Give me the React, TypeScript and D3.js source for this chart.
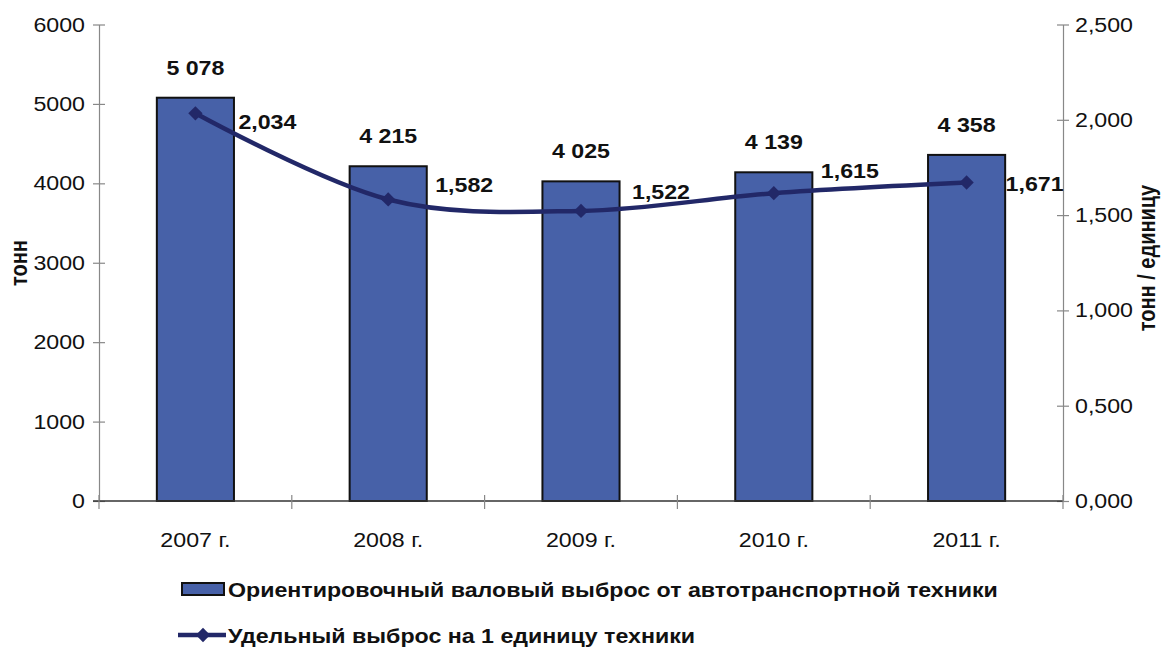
import React, { useEffect, useRef } from "react";
import * as d3 from "d3";

const years = ["2007 г.", "2008 г.", "2009 г.", "2010 г.", "2011 г."];
const grossEmission = [5078, 4215, 4025, 4139, 4358];
const specificEmission = [2.034, 1.582, 1.522, 1.615, 1.671];
const leftTicks = [0, 1000, 2000, 3000, 4000, 5000, 6000];
const rightTicks = [0, 0.5, 1, 1.5, 2, 2.5];

const barLegend = "Ориентировочный валовый выброс от автотранспортной техники";
const lineLegend = "Удельный выброс на 1 единицу техники";

// offsets of the line's value labels from their points
const lineLabelOffsets = [
    [43, 9],
    [47, -14],
    [51, -19],
    [47, -22],
    [39, 1],
];

const ru = d3.formatLocale({
    decimal: ",",
    thousands: " ",
    grouping: [3],
    currency: ["", ""],
});

const font = "'Liberation Sans', Arial, sans-serif";
const stretch = 1.16; // the original's text is wider than its height suggests

type Sel = d3.Selection<SVGGElement, unknown, null, undefined>;

// text, horizontally stretched like the original
function label(
    g: Sel,
    x: number,
    y: number,
    txt: string,
    opts: { size?: number; bold?: boolean; anchor?: string; rotate?: boolean } = {}
) {
    const t = g
        .append("text")
        .attr(
            "transform",
            opts.rotate
                ? `translate(${x},${y}) rotate(-90) scale(1,${stretch})`
                : `translate(${x},${y}) scale(${stretch},1)`
        )
        .attr("text-anchor", opts.anchor || "start")
        .style("font-family", font)
        .style("font-size", `${opts.size || 20}px`)
        .style("font-weight", opts.bold ? "bold" : "normal")
        .attr("fill", "#111")
        .text(txt);
    return t;
}

export default function App() {
    const svgRef = useRef<SVGSVGElement | null>(null);

    useEffect(() => {
        const width = 1161;
        const height = 648;
        const left = 99;
        const right = 1063;
        const top = 24.5;
        const bottom = 501;
        const barColor = "#4761a8";
        const lineColor = "#222868";

        const svg = d3.select(svgRef.current);
        svg.selectAll("*").remove();
        svg.attr("width", width).attr("height", height);
        const root = svg.append("g") as unknown as Sel;

        const x = d3
            .scaleBand<string>()
            .domain(years)
            .range([left, right])
            .paddingInner(0.6)
            .paddingOuter(0.3);

        const yL = d3.scaleLinear().domain([0, 6000]).range([bottom, top]);
        const yR = d3.scaleLinear().domain([0, 2.5]).range([bottom, top]);

        // left axis
        const gl = root.append("g").attr("transform", `translate(${left},0)`);
        gl.call(d3.axisLeft(yL).tickValues(leftTicks).tickFormat(() => "").tickSizeInner(6).tickSizeOuter(0));
        gl.selectAll(".tick line").attr("x1", 6).attr("stroke", "#888").attr("stroke-width", 1.2);
        gl.select(".domain").attr("stroke", "#888").attr("stroke-width", 1.2);
        leftTicks.forEach((v) => label(root, left - 14, yL(v) + 7, d3.format("d")(v), { anchor: "end" }));

        // right axis
        const gr = root.append("g").attr("transform", `translate(${right},0)`);
        gr.call(d3.axisRight(yR).tickValues(rightTicks).tickFormat(() => "").tickSizeInner(6).tickSizeOuter(0));
        gr.selectAll(".tick line").attr("x1", -6).attr("stroke", "#888").attr("stroke-width", 1.2);
        gr.select(".domain").attr("stroke", "#888").attr("stroke-width", 1.2);
        rightTicks.forEach((v) => label(root, right + 12, yR(v) + 7, ru.format(".3f")(v)));

        // bars
        root.append("g")
            .selectAll("rect")
            .data(grossEmission)
            .enter()
            .append("rect")
            .attr("x", (_, i) => x(years[i]) as number)
            .attr("y", (d) => yL(d))
            .attr("width", x.bandwidth())
            .attr("height", (d) => bottom - yL(d))
            .attr("fill", barColor)
            .attr("stroke", "#111")
            .attr("stroke-width", 2);

        // x axis
        const step = x.step();
        root.append("line")
            .attr("x1", left - 6)
            .attr("x2", right)
            .attr("y1", bottom)
            .attr("y2", bottom)
            .attr("stroke", "#333")
            .attr("stroke-width", 1.4);
        root.append("g")
            .selectAll("line")
            .data(d3.range(years.length + 1))
            .enter()
            .append("line")
            .attr("x1", (i) => left + i * step)
            .attr("x2", (i) => left + i * step)
            .attr("y1", bottom - 6)
            .attr("y2", bottom + 8)
            .attr("stroke", "#888")
            .attr("stroke-width", 1.2);
        years.forEach((d) =>
            label(root, (x(d) as number) + x.bandwidth() / 2, 547, d, { anchor: "middle" })
        );

        // bar value labels
        grossEmission.forEach((d, i) =>
            label(root, (x(years[i]) as number) + x.bandwidth() / 2, yL(d) - 23, ru.format(",d")(d), {
                anchor: "middle",
                bold: true,
            })
        );

        // line
        const pts: [number, number][] = specificEmission.map((v, i) => [
            (x(years[i]) as number) + x.bandwidth() / 2,
            yR(v),
        ]);
        const line = d3.line().curve(d3.curveCardinal.tension(0));
        root.append("path")
            .attr("d", line(pts))
            .attr("fill", "none")
            .attr("stroke", lineColor)
            .attr("stroke-width", 4.5);

        const diamond = d3.symbol().type(d3.symbolDiamond2).size(130);
        root.append("g")
            .selectAll("path")
            .data(pts)
            .enter()
            .append("path")
            .attr("d", diamond)
            .attr("transform", (d) => `translate(${d[0]},${d[1]})`)
            .attr("fill", lineColor);

        specificEmission.forEach((d, i) =>
            label(
                root,
                pts[i][0] + lineLabelOffsets[i][0],
                pts[i][1] + lineLabelOffsets[i][1] + 7,
                ru.format(".3f")(d),
                { bold: true }
            )
        );

        // axis titles
        label(root, 27, 263, "тонн", { anchor: "middle", bold: true, rotate: true });
        label(root, 1155, 258, "тонн / единицу", { anchor: "middle", bold: true, rotate: true });

        // legend
        root.append("rect")
            .attr("x", 182)
            .attr("y", 583)
            .attr("width", 42)
            .attr("height", 12)
            .attr("fill", barColor)
            .attr("stroke", "#111")
            .attr("stroke-width", 2);
        label(root, 228, 597, barLegend, { bold: true });

        root.append("line")
            .attr("x1", 178)
            .attr("x2", 226)
            .attr("y1", 635)
            .attr("y2", 635)
            .attr("stroke", lineColor)
            .attr("stroke-width", 4.5);
        root.append("path")
            .attr("d", diamond)
            .attr("transform", `translate(203,635)`)
            .attr("fill", lineColor);
        label(root, 228, 643, lineLegend, { bold: true });
    }, []);

    return (
        <div style={{ position: "absolute", left: 0, top: 0, background: "#fff" }}>
            <svg ref={svgRef} style={{ display: "block" }} />
        </div>
    );
}
